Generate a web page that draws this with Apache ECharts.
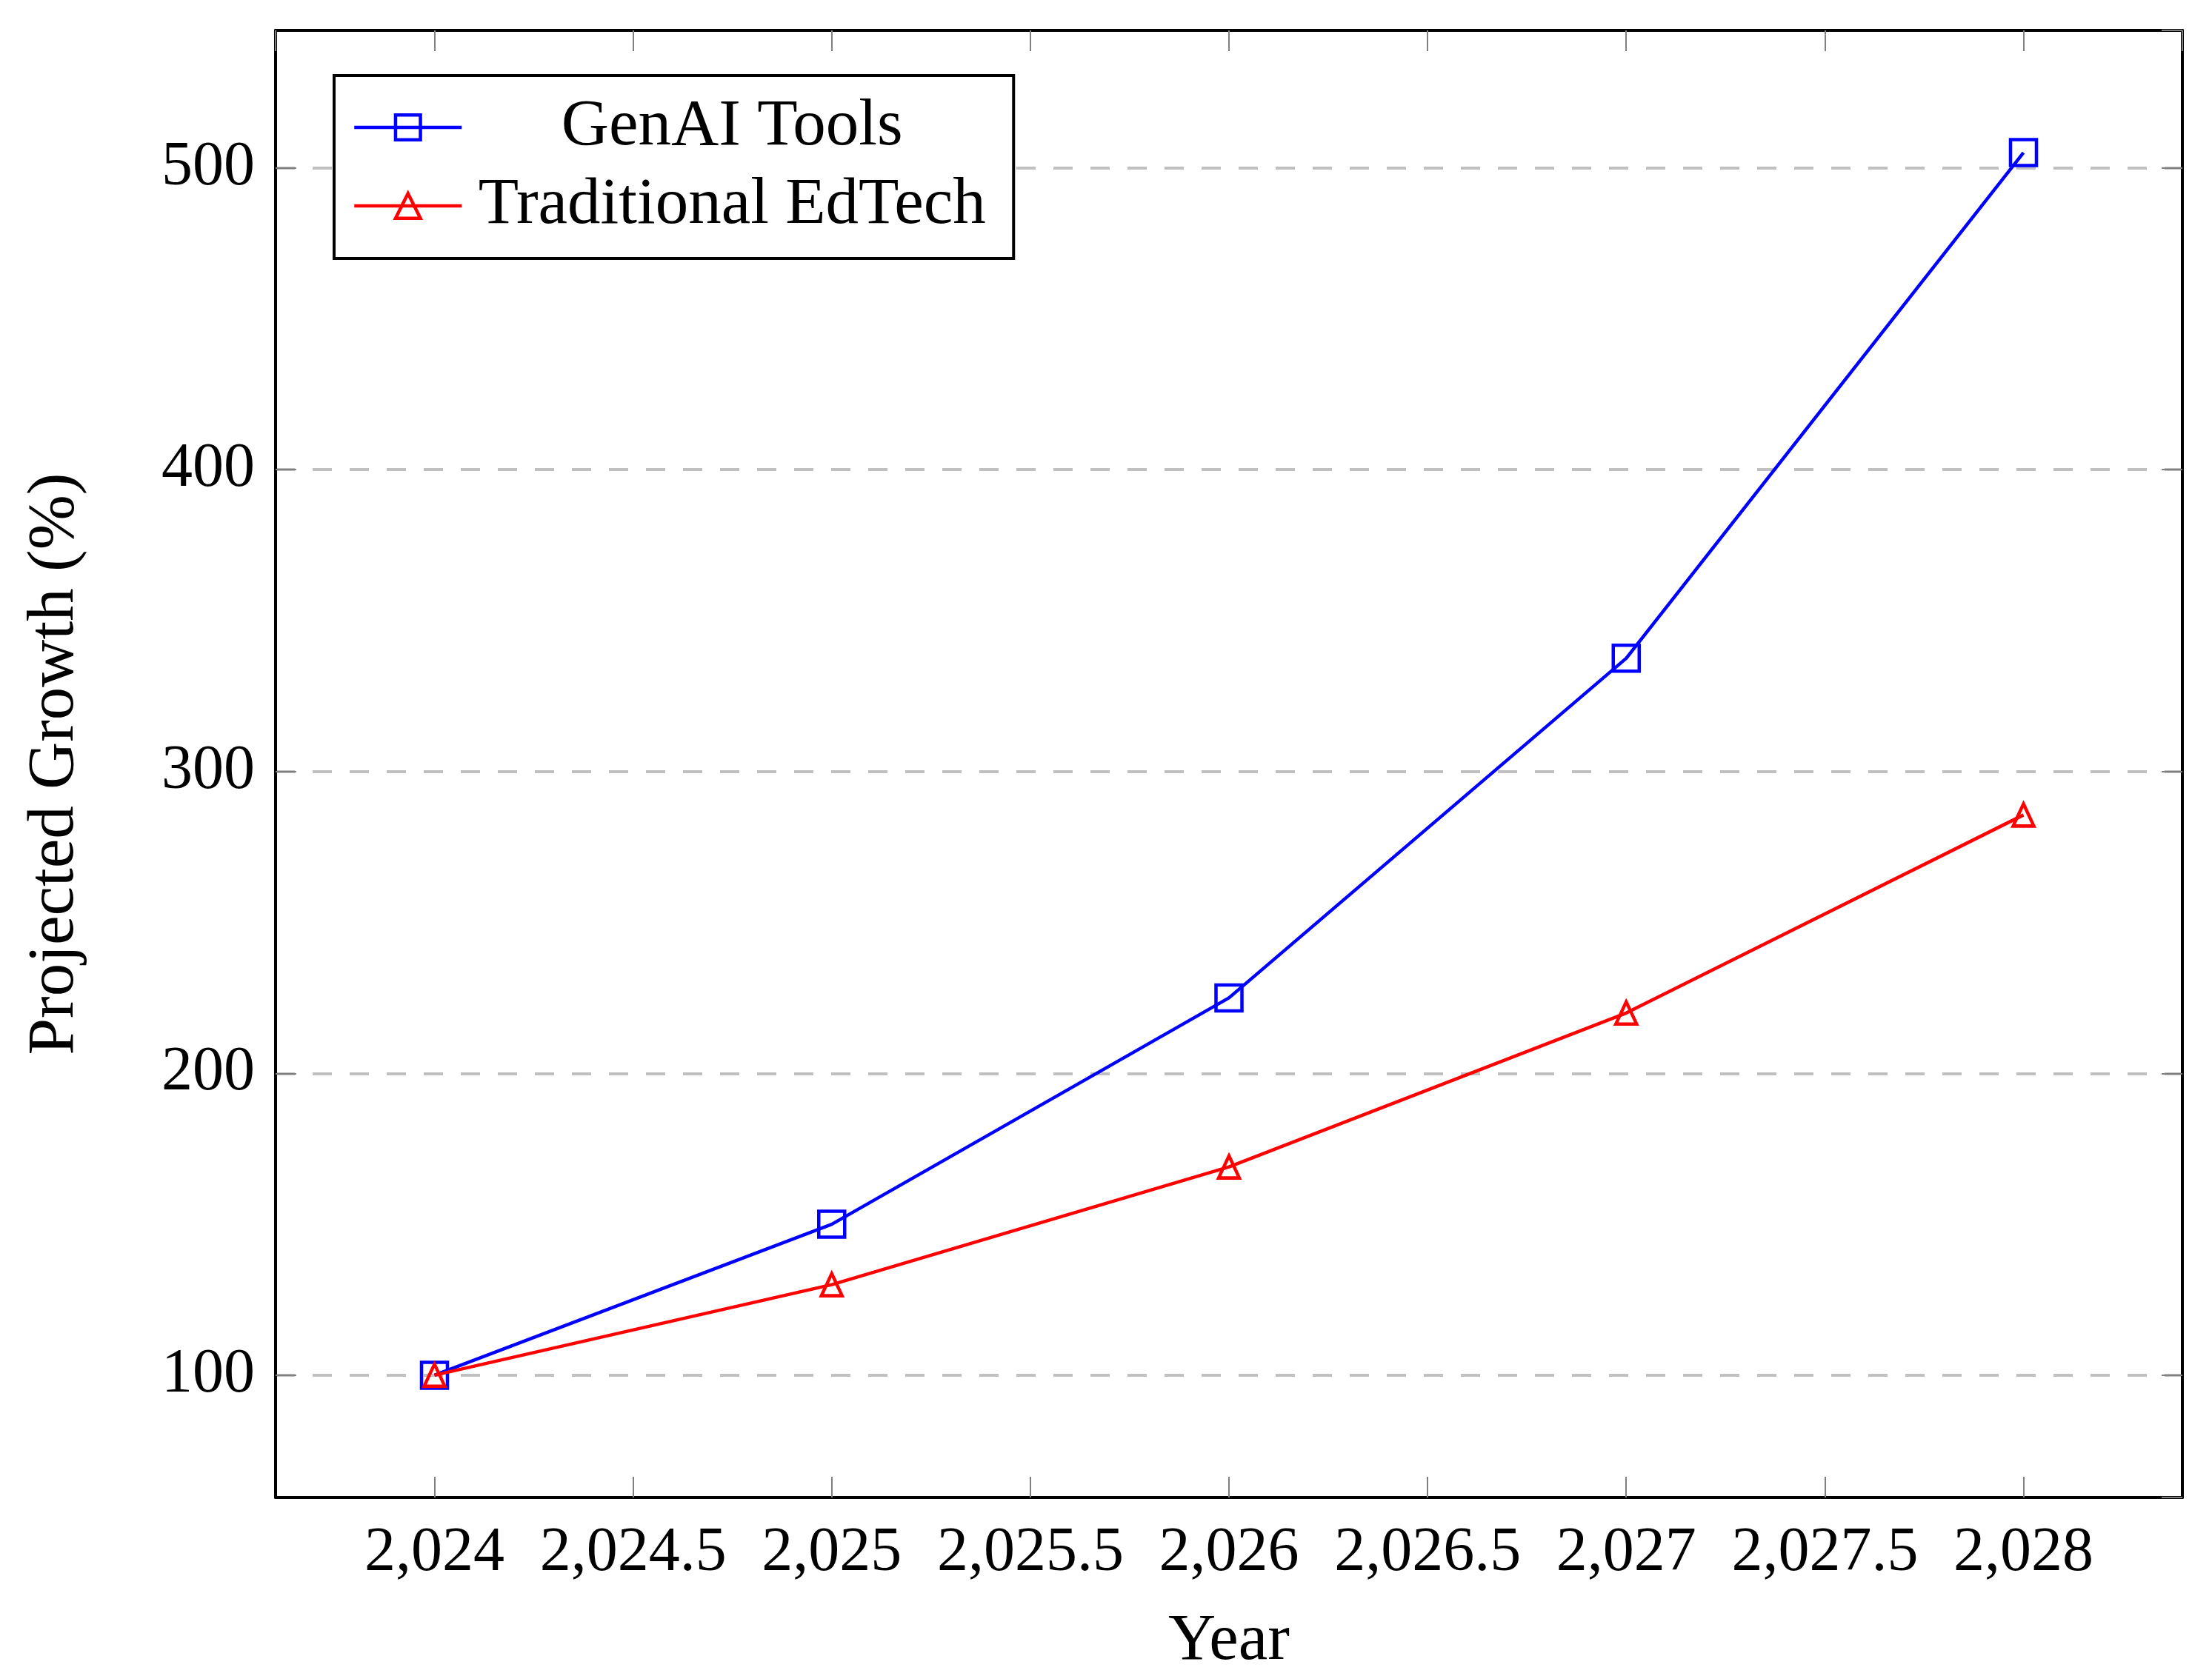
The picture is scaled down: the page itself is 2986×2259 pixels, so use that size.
<!DOCTYPE html>
<html>
<head>
<meta charset="utf-8">
<script src="https://cdn.jsdelivr.net/npm/echarts@6/dist/echarts.min.js"></script>
<style>
html,body{margin:0;padding:0;background:#fff;}
#chart{width:2986px;height:2259px;}
</style>
</head>
<body>
<div id="chart"></div>
<script>
const years = [2024, 2025, 2026, 2027, 2028];
const genAI = [100, 150, 225, 337.5, 505];
const traditional = [100, 130, 169, 220, 285.6];
const seriesNames = ['GenAI Tools', 'Traditional EdTech'];
const xTickValues = [2024, 2024.5, 2025, 2025.5, 2026, 2026.5, 2027, 2027.5, 2028];
const xTickLabels = ['2,024', '2,024.5', '2,025', '2,025.5', '2,026', '2,026.5', '2,027', '2,027.5', '2,028'];
const yTickValues = [100, 200, 300, 400, 500];
const yTickLabels = ['100', '200', '300', '400', '500'];

const FONT = '"Liberation Serif", serif';
const FS = 84;
const FS_T = 89;
const xMin = 2023.6, xMax = 2028.4, yMin = 59.5, yMax = 545.5;

function lookup(vals, labels) {
  return function (v) {
    for (let i = 0; i < vals.length; i++) if (Math.abs(vals[i] - v) < 1e-6) return labels[i];
    return '';
  };
}

const tickStyle = { show: true, inside: true, length: 28, lineStyle: { color: '#808080', width: 2 } };
const borderLine = { show: true, onZero: false, lineStyle: { color: '#000', width: 4 } };

const chart = echarts.init(document.getElementById('chart'), null, { renderer: 'canvas' });
chart.setOption({
  animation: false,
  backgroundColor: '#fff',
  grid: { left: 372, right: 2986 - 2946, top: 41, bottom: 2259 - 2022, containLabel: false, outerBoundsMode: 'none' },
  legend: {
    orient: 'vertical',
    left: 451, top: 102,
    padding: [25, 20, 26, 25],
    itemGap: 16,
    itemWidth: 145, itemHeight: 42,
    backgroundColor: '#fff',
    borderColor: '#000', borderWidth: 4, borderRadius: 0,
    data: seriesNames,
    lineStyle: { width: 4.5 },
    itemStyle: { borderWidth: 4.5 },
    formatter: function (n) { return '{a|' + n + '}'; },
    textStyle: {
      fontFamily: FONT, fontSize: FS_T, color: '#000', lineHeight: 90,
      rich: { a: { fontFamily: FONT, fontSize: FS_T, color: '#000', width: 720, align: 'center', lineHeight: 90 } }
    }
  },
  xAxis: [{
    type: 'value', min: xMin, max: xMax, splitNumber: 10, position: 'bottom',
    axisLine: borderLine, axisTick: tickStyle,
    axisLabel: { showMinLabel: false, showMaxLabel: false, margin: 34, fontFamily: FONT, fontSize: FS, color: '#000',
      formatter: lookup(xTickValues, xTickLabels) },
    splitLine: { show: false },
    name: 'Year', nameLocation: 'middle', nameGap: 150,
    nameTextStyle: { fontFamily: FONT, fontSize: FS_T, color: '#000' }
  }, {
    type: 'value', min: xMin, max: xMax, splitNumber: 10, position: 'top',
    axisLine: borderLine, axisTick: tickStyle, axisLabel: { show: false }, splitLine: { show: false }
  }],
  yAxis: [{
    type: 'value', min: yMin, max: yMax, splitNumber: 5, position: 'left',
    axisLine: borderLine, axisTick: tickStyle,
    axisLabel: { showMinLabel: false, showMaxLabel: false, margin: 28, fontFamily: FONT, fontSize: FS, color: '#000',
      formatter: lookup(yTickValues, yTickLabels) },
    splitLine: { show: true, lineStyle: { color: '#c0c0c0', width: 4, type: [26, 24] } },
    name: 'Projected Growth (%)', nameLocation: 'middle', nameGap: 253, nameRotate: 90,
    nameTextStyle: { fontFamily: FONT, fontSize: FS_T, color: '#000' }
  }, {
    type: 'value', min: yMin, max: yMax, splitNumber: 5, position: 'right',
    axisLine: borderLine, axisTick: tickStyle, axisLabel: { show: false }, splitLine: { show: false }
  }],
  series: [{
    name: seriesNames[0], type: 'line',
    data: years.map((y, i) => [y, genAI[i]]),
    symbol: 'rect', symbolSize: 35,
    lineStyle: { color: '#0000ff', width: 4.5 },
    itemStyle: { color: 'rgba(0,0,0,0)', borderColor: '#0000ff', borderWidth: 4.5 },
    z: 3
  }, {
    name: seriesNames[1], type: 'line',
    data: years.map((y, i) => [y, traditional[i]]),
    symbol: 'triangle', symbolSize: [28, 30],
    lineStyle: { color: '#ff0000', width: 4.5 },
    itemStyle: { color: 'rgba(0,0,0,0)', borderColor: '#ff0000', borderWidth: 4.5 },
    z: 4
  }]
});
</script>
</body>
</html>
